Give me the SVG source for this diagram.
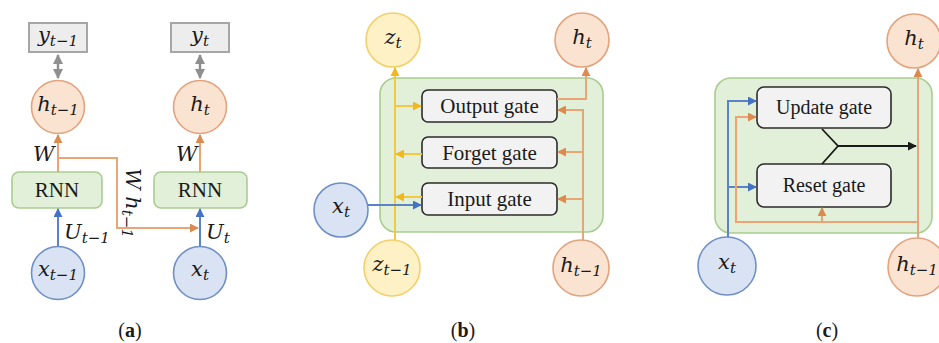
<svg xmlns="http://www.w3.org/2000/svg" width="939" height="343" viewBox="0 0 939 343">
  <style>
    .math { font-family: "DejaVu Serif", "Liberation Serif", serif; font-style: italic; font-size: 21px; fill: #1a1a1a; }
    .sub { font-size: 15px; }
    .txt { font-family: "Liberation Serif", "Times New Roman", serif; font-size: 21px; fill: #1a1a1a; }
    .txt2 { font-family: "Liberation Serif", "Times New Roman", serif; font-size: 20px; fill: #1a1a1a; }
    .cap { font-family: "Liberation Serif", serif; font-size: 20px; fill: #1a1a1a; }
    .cell { fill: #e2efd9; stroke: #a9cd8f; stroke-width: 1.6; }
    .gate { fill: #f2f2f2; stroke: #2b2b2b; stroke-width: 1.6; }
    .ybox { fill: #ededed; stroke: #a6a6a6; stroke-width: 2; }
    .orangeN { fill: #fbe3d2; stroke: #e3a37d; stroke-width: 1.6; }
    .blueN { fill: #d9e3f4; stroke: #6f8fc6; stroke-width: 1.6; }
    .yellowN { fill: #fff1c6; stroke: #f3d06a; stroke-width: 1.6; }
    .lo { fill: none; stroke: #eba574; stroke-width: 2; }
    .ly { fill: none; stroke: #f5c842; stroke-width: 2; }
    .lb { fill: none; stroke: #5b84c6; stroke-width: 2; }
    .lg { fill: none; stroke: #8f8f8f; stroke-width: 2.5; }
    .lk { fill: none; stroke: #1a1a1a; stroke-width: 1.8; }
  </style>
  <defs>
    <marker id="ao" viewBox="0 0 10 10" refX="9" refY="5" markerWidth="9" markerHeight="9" markerUnits="userSpaceOnUse" orient="auto"><path d="M0,0 L10,5 L0,10 z" fill="#dd8a4e"/></marker>
    <marker id="ay" viewBox="0 0 10 10" refX="9" refY="5" markerWidth="9" markerHeight="9" markerUnits="userSpaceOnUse" orient="auto"><path d="M0,0 L10,5 L0,10 z" fill="#f0b81e"/></marker>
    <marker id="ab" viewBox="0 0 10 10" refX="9" refY="5" markerWidth="9" markerHeight="9" markerUnits="userSpaceOnUse" orient="auto"><path d="M0,0 L10,5 L0,10 z" fill="#4472c4"/></marker>
    <marker id="ag" viewBox="0 0 10 10" refX="9" refY="5" markerWidth="10" markerHeight="10" markerUnits="userSpaceOnUse" orient="auto-start-reverse"><path d="M0,0 L10,5 L0,10 z" fill="#8f8f8f"/></marker>
    <marker id="ak" viewBox="0 0 10 10" refX="9" refY="5" markerWidth="9" markerHeight="9" markerUnits="userSpaceOnUse" orient="auto"><path d="M0,0 L10,5 L0,10 z" fill="#1a1a1a"/></marker>
  </defs>

  <!-- (a) simple RNN unrolled over two steps -->
  <g id="a-cells">
    <rect class="cell" x="12" y="172" width="90" height="36" rx="7"/>
    <text class="txt" x="57" y="197" text-anchor="middle">RNN</text>
    <rect class="cell" x="154" y="172" width="93" height="36" rx="7"/>
    <text class="txt" x="200" y="197" text-anchor="middle">RNN</text>
  </g>
  <g id="a-y-prev">
    <rect class="ybox" x="29" y="23" width="58" height="29"/>
    <text class="math" x="58" y="42" text-anchor="middle">y<tspan class="sub" dy="4">t−1</tspan></text>
  </g>
  <g id="a-y-cur">
    <rect class="ybox" x="171" y="23" width="58" height="29"/>
    <text class="math" x="200" y="42" text-anchor="middle">y<tspan class="sub" dy="4">t</tspan></text>
  </g>
  <g id="a-h-prev">
    <circle class="orangeN" cx="58" cy="107" r="26.5"/>
    <text class="math" x="58" y="111" text-anchor="middle">h<tspan class="sub" dy="4">t−1</tspan></text>
  </g>
  <g id="a-h-cur">
    <circle class="orangeN" cx="200" cy="107" r="26.5"/>
    <text class="math" x="200" y="111" text-anchor="middle">h<tspan class="sub" dy="4">t</tspan></text>
  </g>
  <g id="a-x-prev">
    <circle class="blueN" cx="58" cy="273" r="26.5"/>
    <text class="math" x="58" y="276" text-anchor="middle">x<tspan class="sub" dy="4">t−1</tspan></text>
  </g>
  <g id="a-x-cur">
    <circle class="blueN" cx="200" cy="273" r="26.5"/>
    <text class="math" x="200" y="276" text-anchor="middle">x<tspan class="sub" dy="4">t</tspan></text>
  </g>
  <g id="a-connectors">
    <line class="lg" x1="58" y1="55" x2="58" y2="78" marker-start="url(#ag)" marker-end="url(#ag)"/>
    <line class="lg" x1="200" y1="55" x2="200" y2="78" marker-start="url(#ag)" marker-end="url(#ag)"/>
    <line class="lo" x1="58" y1="172" x2="58" y2="135" marker-end="url(#ao)"/>
    <line class="lo" x1="200" y1="172" x2="200" y2="135" marker-end="url(#ao)"/>
    <polyline class="lo" points="58,158 117,158 117,228 198,228" marker-end="url(#ao)"/>
    <line class="lb" x1="58" y1="246" x2="58" y2="209" marker-end="url(#ab)"/>
    <line class="lb" x1="200" y1="246" x2="200" y2="209" marker-end="url(#ab)"/>
  </g>
  <g id="a-labels">
    <text class="math" x="33" y="161">W</text>
    <text class="math" x="176" y="161">W</text>
    <text class="math" x="64" y="239">U<tspan class="sub" dy="4">t−1</tspan></text>
    <text class="math" x="206" y="239">U<tspan class="sub" dy="4">t</tspan></text>
    <text class="math" transform="translate(126,168) rotate(90)">W h<tspan class="sub" dy="4">t−1</tspan></text>
    <text class="cap" x="130" y="337" text-anchor="middle">(<tspan font-weight="bold">a</tspan>)</text>
  </g>

  <!-- (b) LSTM cell -->
  <g id="b-cell"><rect class="cell" x="380" y="78" width="223" height="154" rx="16"/></g>
  <g id="b-output-gate">
    <rect class="gate" x="422" y="90" width="135" height="32" rx="6"/>
    <text class="txt" x="489.5" y="113" text-anchor="middle">Output gate</text>
  </g>
  <g id="b-forget-gate">
    <rect class="gate" x="422" y="137" width="135" height="31" rx="6"/>
    <text class="txt" x="489.5" y="159.5" text-anchor="middle">Forget gate</text>
  </g>
  <g id="b-input-gate">
    <rect class="gate" x="422" y="183" width="135" height="32" rx="6"/>
    <text class="txt" x="489.5" y="206" text-anchor="middle">Input gate</text>
  </g>
  <g id="b-z-cur">
    <circle class="yellowN" cx="393" cy="40" r="27"/>
    <text class="math" x="393" y="44" text-anchor="middle">z<tspan class="sub" dy="4">t</tspan></text>
  </g>
  <g id="b-h-cur">
    <circle class="orangeN" cx="582" cy="40" r="27"/>
    <text class="math" x="582" y="44" text-anchor="middle">h<tspan class="sub" dy="4">t</tspan></text>
  </g>
  <g id="b-x">
    <circle class="blueN" cx="341" cy="210" r="27"/>
    <text class="math" x="341" y="213" text-anchor="middle">x<tspan class="sub" dy="4">t</tspan></text>
  </g>
  <g id="b-z-prev">
    <circle class="yellowN" cx="392" cy="268" r="28"/>
    <text class="math" x="392" y="271" text-anchor="middle">z<tspan class="sub" dy="4">t−1</tspan></text>
  </g>
  <g id="b-h-prev">
    <circle class="orangeN" cx="581" cy="268" r="28"/>
    <text class="math" x="581" y="272" text-anchor="middle">h<tspan class="sub" dy="4">t−1</tspan></text>
  </g>
  <g id="b-connectors">
    <line class="ly" x1="395" y1="240" x2="395" y2="68" marker-end="url(#ay)"/>
    <line class="ly" x1="395" y1="106" x2="421" y2="106" marker-end="url(#ay)"/>
    <line class="ly" x1="422" y1="154" x2="396" y2="154" marker-end="url(#ay)"/>
    <line class="ly" x1="422" y1="197" x2="396" y2="197" marker-end="url(#ay)"/>
    <line class="lb" x1="368" y1="205" x2="421" y2="205" marker-end="url(#ab)"/>
    <polyline class="lo" points="583,240 583,110 558,110" marker-end="url(#ao)"/>
    <line class="lo" x1="583" y1="152" x2="558" y2="152" marker-end="url(#ao)"/>
    <line class="lo" x1="583" y1="199" x2="558" y2="199" marker-end="url(#ao)"/>
    <polyline class="lo" points="557,99 586,99 586,68" marker-end="url(#ao)"/>
  </g>
  <text class="cap" x="463" y="337" text-anchor="middle">(<tspan font-weight="bold">b</tspan>)</text>

  <!-- (c) GRU cell -->
  <g id="c-cell"><rect class="cell" x="715" y="78" width="217" height="155" rx="16"/></g>
  <g id="c-update-gate">
    <rect class="gate" x="757" y="87" width="134" height="41" rx="7"/>
    <text class="txt2" x="824" y="114" text-anchor="middle">Update gate</text>
  </g>
  <g id="c-reset-gate">
    <rect class="gate" x="757" y="164" width="134" height="43" rx="7"/>
    <text class="txt2" x="824" y="192" text-anchor="middle">Reset gate</text>
  </g>
  <g id="c-h-cur">
    <circle class="orangeN" cx="914" cy="41" r="27"/>
    <text class="math" x="914" y="45" text-anchor="middle">h<tspan class="sub" dy="4">t</tspan></text>
  </g>
  <g id="c-x">
    <circle class="blueN" cx="727" cy="266" r="29"/>
    <text class="math" x="727" y="269" text-anchor="middle">x<tspan class="sub" dy="4">t</tspan></text>
  </g>
  <g id="c-h-prev">
    <circle class="orangeN" cx="917" cy="267" r="29"/>
    <text class="math" x="917" y="271" text-anchor="middle">h<tspan class="sub" dy="4">t−1</tspan></text>
  </g>
  <g id="c-connectors">
    <polyline class="lb" points="728,237 728,101 756,101" marker-end="url(#ab)"/>
    <line class="lb" x1="728" y1="187" x2="756" y2="187" marker-end="url(#ab)"/>
    <polyline class="lo" points="918,222 736,222 736,117 756,117" marker-end="url(#ao)"/>
    <line class="lo" x1="918" y1="238" x2="918" y2="69" marker-end="url(#ao)"/>
    <line class="lo" x1="822" y1="222" x2="822" y2="208" marker-end="url(#ao)"/>
    <polyline class="lk" points="822,129 838,146 822,164"/>
    <line class="lk" x1="838" y1="146" x2="916" y2="146" marker-end="url(#ak)"/>
  </g>
  <text class="cap" x="827" y="337" text-anchor="middle">(<tspan font-weight="bold">c</tspan>)</text>
</svg>
